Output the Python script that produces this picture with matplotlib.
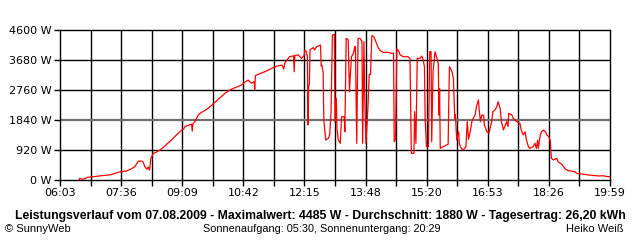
import numpy as np
import matplotlib.pyplot as plt

# Leistung (W) ueber Uhrzeit (Minuten seit Mitternacht)
minutes = [392, 393, 395, 397, 399, 402, 404, 410, 414, 418, 425, 440, 454, 464, 470, 477,
           482, 487, 489, 492, 495, 497, 499, 500, 501, 505, 510, 515, 520, 525, 530, 535,
           540, 544, 548, 551, 553, 558, 563, 564, 565, 568, 573, 578, 583, 588, 594, 599,
           604, 609, 614, 621, 629, 634, 639, 644, 649, 654, 658, 659, 660, 664, 672, 680,
           687, 695, 701, 703, 705, 708, 712, 718, 719, 720, 725, 730, 734, 735, 737, 739,
           740, 741, 742, 743, 745, 748, 750, 753, 756, 759, 760, 761, 763, 764, 767, 771,
           773, 775, 777, 780, 781, 783, 784, 786, 789, 791, 795, 796, 798, 801, 803, 804,
           806, 809, 811, 812, 814, 816, 819, 822, 823, 825, 826, 828, 831, 833, 835, 837,
           840, 842, 846, 849, 854, 862, 867, 870, 871, 873, 875, 878, 880, 885, 892, 895,
           897, 901, 902, 904, 906, 910, 913, 915, 917, 918, 920, 923, 924, 925, 927, 928,
           930, 931, 933, 935, 937, 938, 939, 940, 941, 945, 951, 953, 954, 955, 957, 959,
           961, 963, 964, 966, 969, 970, 973, 976, 980, 982, 984, 987, 989, 991, 994, 996,
           999, 1000, 1002, 1004, 1007, 1008, 1012, 1015, 1018, 1019, 1021, 1024, 1027, 1029,
           1032, 1034, 1037, 1039, 1042, 1044, 1045, 1050, 1052, 1057, 1062, 1064, 1067, 1070,
           1072, 1075, 1077, 1082, 1085, 1087, 1089, 1090, 1093, 1095, 1098, 1101, 1103, 1106,
           1108, 1110, 1113, 1118, 1120, 1126, 1131, 1136, 1146, 1148, 1156, 1166, 1181, 1190,
           1192, 1199]
power = [0, 50, 40, 20, 30, 50, 80, 90, 100, 110, 130, 160, 250, 275, 330, 410,
         580, 580, 560, 410, 330, 400, 300, 450, 665, 820, 860, 920, 1000, 1095, 1180, 1280,
         1380, 1460, 1530, 1565, 1635, 1680, 1710, 1500, 1720, 1790, 1990, 2075, 2130, 2200, 2300, 2390,
         2485, 2570, 2660, 2760, 2830, 2870, 2915, 3000, 3065, 2965, 3015, 2780, 3200, 3240, 3300, 3375,
         3445, 3505, 3520, 3400, 3600, 3680, 3780, 3810, 3320, 3820, 3835, 3730, 3810, 3985, 3950, 3800,
         1690, 2900, 2915, 3985, 4020, 4060, 3990, 4090, 4110, 4140, 3500, 3525, 3300, 1840, 1225, 1280,
         1400, 2095, 4445, 4470, 1790, 2500, 1585, 1225, 1125, 1940, 1940, 1480, 4345, 4300, 2710, 3120,
         3780, 3880, 4090, 4090, 1125, 4345, 4345, 4250, 1125, 4240, 2760, 1125, 2200, 3240, 3240, 4425,
         4400, 4295, 4090, 3985, 3915, 3915, 3885, 3885, 1175, 1250, 4020, 3950, 3835, 3780, 3780, 3730,
         820, 820, 2095, 1125, 3730, 3730, 3800, 3680, 3470, 1890, 1020, 1020, 2400, 3935, 3935, 1175,
         3320, 3500, 3935, 3800, 3650, 3575, 1990, 2800, 970, 1020, 1075, 1100, 2505, 3475, 3400, 3300,
         3120, 1890, 2000, 1225, 1480, 1100, 970, 920, 1020, 1790, 1250, 1535, 1790, 1890, 1990, 2250,
         2455, 2200, 1790, 1990, 1990, 1690, 1480, 1430, 1690, 1790, 2095, 2145, 2250, 2400,
         2200, 1790, 1535, 1635, 1790, 1640, 2045, 1990, 1890, 1790, 1740, 1535, 1380, 1480,
         1225, 1020, 970, 1020, 1125, 970, 1225, 970, 1380, 1480, 1535, 1480, 1380, 1330,
         1225, 665, 615, 665, 560, 480, 335, 285, 255, 205, 185, 155, 125, 130,
         110, 100]

y_ticks = [0, 920, 1840, 2760, 3680, 4600]
x_labels = ["06:03", "07:36", "09:09", "10:42", "12:15", "13:48", "15:20", "16:53", "18:26", "19:59"]
t_start, t_end = 363, 1199

fig = plt.figure(figsize=(6.4, 2.4), dpi=100)
ax = fig.add_axes([60 / 640, 60 / 240, 550 / 640, 150 / 240])

# Gitter
x_grid = np.linspace(t_start, t_end, 19)
for xg in x_grid[1:-1]:
    ax.axvline(xg, color="black", lw=1.0, zorder=1)
for yg in y_ticks[1:-1]:
    if yg == 1840:
        ax.axhline(yg, color="#707070", lw=1.6, zorder=1)
    else:
        ax.axhline(yg, color="black", lw=1.0, zorder=1)

ax.plot(minutes, power, color="red", lw=0.9, zorder=3)

ax.set_xlim(t_start, t_end)
ax.set_ylim(0, 4600)
ax.set_xticks(x_grid)
ax.set_xticklabels([x_labels[i // 2] if i % 2 == 0 else "" for i in range(19)])
ax.set_yticks(y_ticks)
ax.set_yticklabels(["%d W" % v for v in y_ticks])
ax.tick_params(axis="both", direction="out", length=4, width=1, labelsize=8, pad=2, colors="black")
for s in ax.spines.values():
    s.set_linewidth(1.0)
    s.set_color("black")

fig.text(0.5, 1 - 216 / 240, "Leistungsverlauf vom 07.08.2009 - Maximalwert: 4485 W - Durchschnitt: 1880 W - Tagesertrag: 26,20 kWh",
         ha="center", va="center", fontsize=8.8, fontweight="bold", family="Liberation Sans")
fig.text(5 / 640, 1 - 229 / 240, "© SunnyWeb", ha="left", va="center", fontsize=8, family="Liberation Sans")
fig.text(203 / 640, 1 - 229 / 240, "Sonnenaufgang: 05:30, Sonnenuntergang: 20:29", ha="left", va="center",
         fontsize=7.8, family="Liberation Sans")
fig.text(624 / 640, 1 - 229 / 240, "Heiko Weiß", ha="right", va="center", fontsize=8, family="Liberation Sans")

fig.savefig("out.png", dpi=100)
